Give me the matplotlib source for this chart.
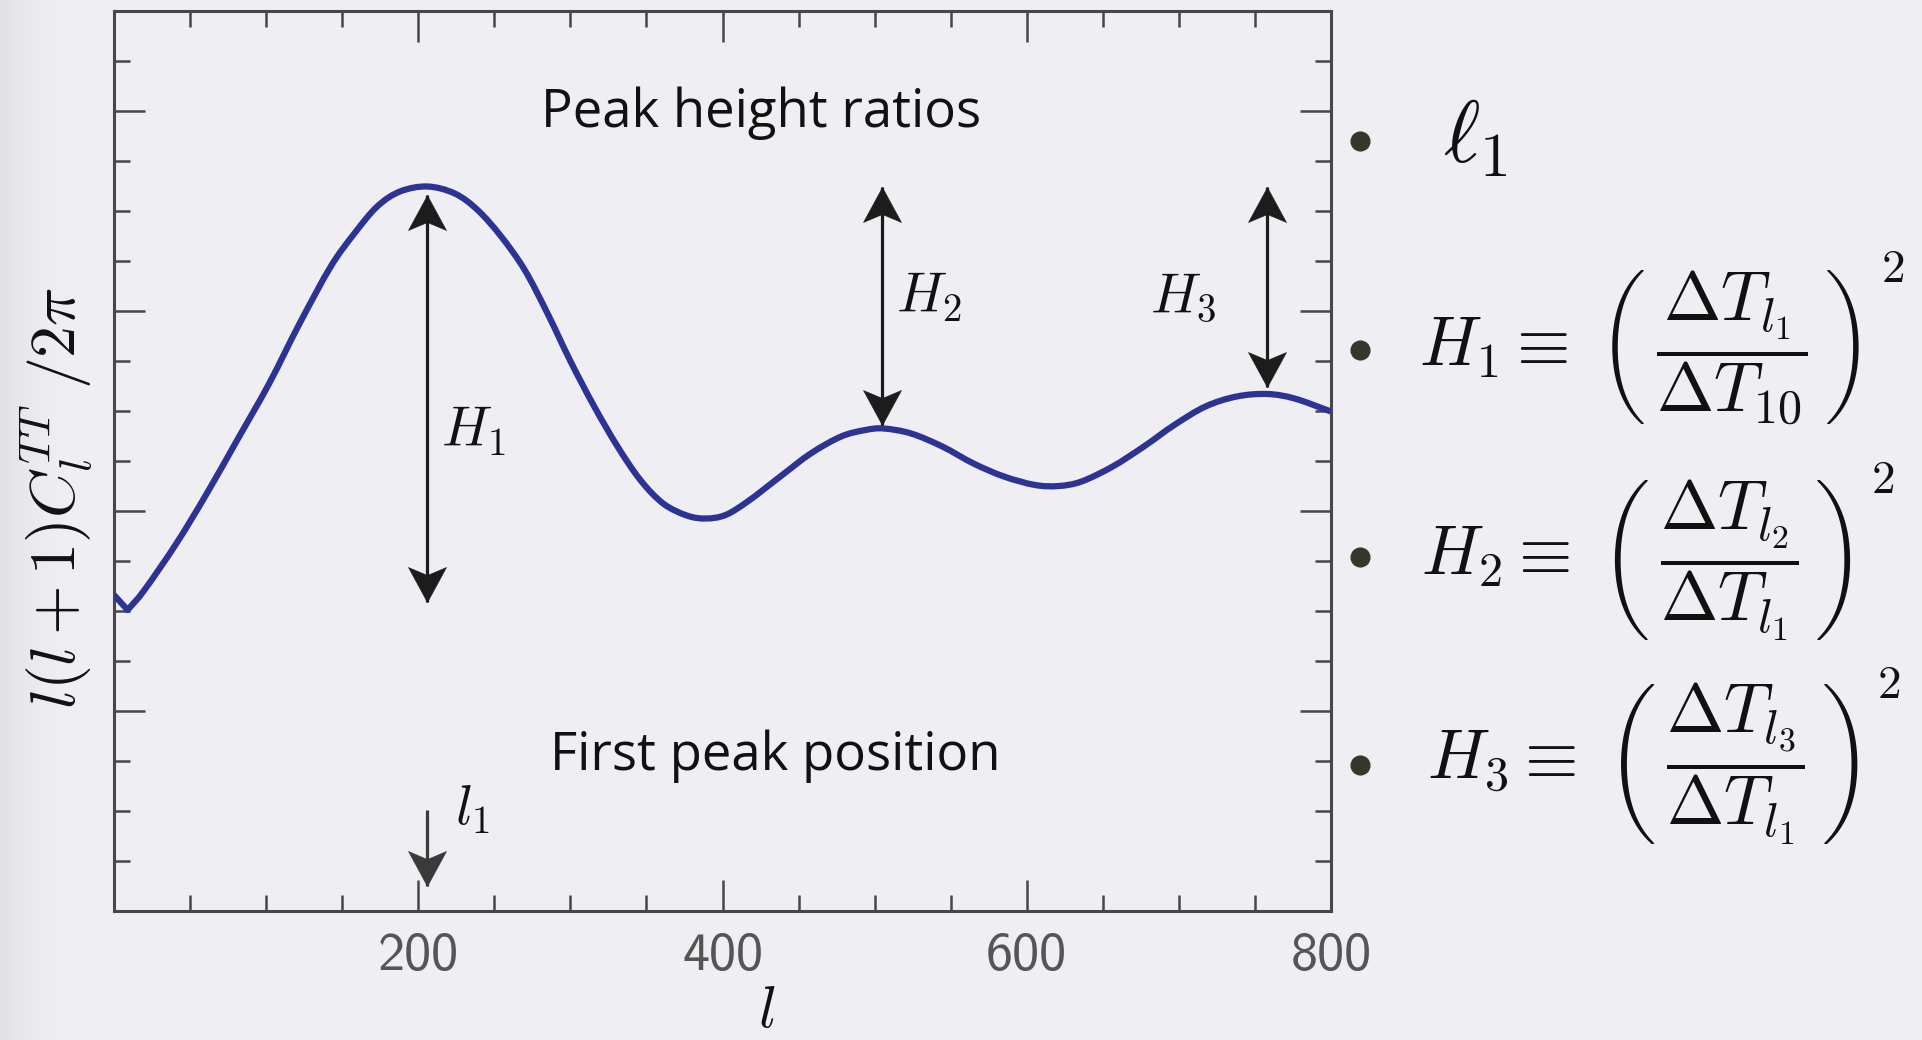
import os
import numpy as np
import matplotlib
matplotlib.use("Agg")
import matplotlib.pyplot as plt
from matplotlib.path import Path
from matplotlib.patches import PathPatch
from matplotlib.lines import Line2D
from matplotlib.font_manager import FontProperties
from matplotlib.ticker import MultipleLocator, FixedLocator

plt.rcParams['mathtext.fontset'] = 'cm'

# Schematic CMB temperature power spectrum, l(l+1)C_l/2pi in arbitrary units
ell = [0, 9, 20, 41, 61, 81, 102, 122, 142.5, 158, 173, 188, 206, 224, 239,
       254.5, 270, 285, 300, 315.5, 331, 346, 361, 376.5, 389, 402, 417, 438,
       458, 478, 494, 506, 524, 544.5, 565, 585, 605.5, 621, 636, 656.5, 677,
       697, 717.5, 738, 758, 776, 800]
power = [6.32, 6.02, 6.42, 7.35, 8.35, 9.42, 10.55, 11.75, 12.89, 13.55,
         14.09, 14.39, 14.49, 14.35, 14.02, 13.49, 12.82, 11.95, 11.00, 10.10,
         9.29, 8.62, 8.15, 7.91, 7.85, 7.92, 8.20, 8.69, 9.15, 9.49, 9.62,
         9.65, 9.55, 9.29, 8.95, 8.69, 8.52, 8.50, 8.59, 8.89, 9.29, 9.72,
         10.09, 10.29, 10.34, 10.25, 9.99]
corner_index = [1]   # the sharp dip at the start of the curve

# Peak-height arrows: multipole, lower tip, upper tip
h_arrow_ell = [206, 505, 758]
h_arrow_low = [6.19, 9.72, 10.49]
h_arrow_high = [14.32, 14.49, 14.49]
h_labels = [r'$H_1$', r'$H_2$', r'$H_3$']
h_label_ell = [215, 514, 681]
h_label_y = [9.28, 11.96, 11.96]

# First-peak position arrow
l1_arrow_ell = 206
l1_arrow_from = 2.02
l1_arrow_to = 0.51

x_ticks = [200, 400, 600, 800]
x_tick_labels = ['200', '400', '600', '800']

W, H = 1922, 1040
BG = '#eeeef3'
CURVE = '#2d3393'
INK = '#1c1c1c'
AXC = '#474747'

sans_cm = FontProperties(
    fname=os.path.join(matplotlib.get_data_path(), 'fonts', 'ttf',
                       'cmss10.ttf'), size=39)

fig = plt.figure(figsize=(W / 100, H / 100), dpi=100, facecolor=BG)

# soft shade along the left edge of the slide
shade_w = 70
grad = (1 - np.arange(shade_w) / shade_w) ** 1.6
shade = np.zeros((H, shade_w, 4))
shade[..., :3] = 0.62
shade[..., 3] = 0.16 * grad[None, :]
fig.figimage(shade, xo=0, yo=0, zorder=0)

ax = fig.add_axes([114 / W, (H - 911) / H, (1331 - 114) / W, (911 - 11) / H])
ax.patch.set_alpha(0)


def smooth_path(x, y, corners=()):
    """Cubic Bezier path through the points (Catmull-Rom tangents)."""
    p = np.column_stack([np.asarray(x, float), np.asarray(y, float)])
    n = len(p)

    def tangent(i, side):
        if i == 0:
            return p[1] - p[0]
        if i == n - 1:
            return p[-1] - p[-2]
        if i in corners:
            return p[i] - p[i - 1] if side == 'in' else p[i + 1] - p[i]
        return (p[i + 1] - p[i - 1]) / 2

    verts, codes = [p[0]], [Path.MOVETO]
    for i in range(n - 1):
        c1 = p[i] + tangent(i, 'out') / 3
        c2 = p[i + 1] - tangent(i + 1, 'in') / 3
        verts += [c1, c2, p[i + 1]]
        codes += [Path.CURVE4] * 3
    return Path(np.array(verts), codes)


ax.add_patch(PathPatch(smooth_path(ell, power, corner_index), fill=False,
                       edgecolor=CURVE, lw=4.5, joinstyle='round',
                       capstyle='butt', zorder=3))


def stealth(pointing):
    v = np.array([[0, 0], [-19, -35], [0, -27], [19, -35], [0, 0]], float)
    if pointing == 'down':
        v[:, 1] *= -1
    return Path(v, [Path.MOVETO, Path.LINETO, Path.LINETO, Path.LINETO,
                    Path.CLOSEPOLY])


HEAD_MS = 2 * 35 * 0.72


def arrow(x, y0, y1, color, up=True, down=True):
    ax.plot([x, x], [y0, y1], color=color, lw=2.3, solid_capstyle='butt',
            zorder=4)
    if up:
        ax.plot([x], [y1], marker=stealth('up'), ms=HEAD_MS, color=color,
                mec=color, mew=0.4, zorder=5)
    if down:
        ax.plot([x], [y0], marker=stealth('down'), ms=HEAD_MS, color=color,
                mec=color, mew=0.4, zorder=5)


for x, lo, hi in zip(h_arrow_ell, h_arrow_low, h_arrow_high):
    arrow(x, lo, hi, INK)
arrow(l1_arrow_ell, l1_arrow_to, l1_arrow_from, '#3b3a3a', up=False)

for txt, x, y in zip(h_labels, h_label_ell, h_label_y):
    ax.text(x, y, txt, fontsize=40, color='#111111', ha='left', va='baseline')
ax.text(224, 1.72, r'$l_1$', fontsize=40, color='#111111', ha='left',
        va='baseline')

ax.text(281, 15.68, 'Peak height ratios', fontsize=38, family='Open Sans',
        color='#111111', ha='left', va='baseline')
ax.text(286.6, 2.82, 'First peak position', fontsize=38, family='Open Sans',
        color='#111111', ha='left', va='baseline')

ax.set_xlim(0, 800)
ax.set_ylim(0, 18)
ax.xaxis.set_major_locator(FixedLocator(x_ticks))
ax.set_xticklabels(x_tick_labels, fontproperties=sans_cm, color='#555555')
ax.xaxis.set_minor_locator(MultipleLocator(50))
ax.yaxis.set_major_locator(MultipleLocator(4))
ax.yaxis.set_minor_locator(MultipleLocator(1))
ax.tick_params(axis='both', which='both', direction='in', top=True,
               right=True, color=AXC, width=1.8, labelleft=False)
ax.tick_params(axis='both', which='major', length=22.3, pad=15)
ax.tick_params(axis='both', which='minor', length=11.5)
for s in ax.spines.values():
    s.set_color(AXC)
    s.set_linewidth(2.2)

# axis titles
fig.text(57 / W, 1 - 498 / H, r'$l(l+1)C_l^{TT}\ /2\pi$', rotation=90,
         fontsize=46, color='#111111', ha='center', va='center')
fig.text(767 / W, 1 - 982 / H, r'$l$', fontsize=42, color='#111111',
         ha='center', va='top')

# bullet list of observables
bullet_y = [141, 350, 557, 765]
for y in bullet_y:
    fig.add_artist(Line2D([1359.5 / W], [1 - y / H], marker='o', ms=13.5,
                          color='#36372c', transform=fig.transFigure))

fig.text(1443 / W, 1 - 162 / H, r'$\ell_1$', fontsize=63, color='#111111',
         ha='left', va='baseline')
eqs = [r'$H_1\equiv\;\left(\,\dfrac{\Delta T_{l_1}}{\Delta T_{10}}\,\right)$',
       r'$H_2\equiv\;\left(\,\dfrac{\Delta T_{l_2}}{\Delta T_{l_1}}\,\right)$',
       r'$H_3\equiv\;\left(\,\dfrac{\Delta T_{l_3}}{\Delta T_{l_1}}\,\right)$']
eq_x = [1419, 1421, 1427]
eq_y = [348, 560, 764]
for s, x, y in zip(eqs, eq_x, eq_y):
    fig.text(x / W, 1 - y / H, s, fontsize=49.5, color='#111111',
             ha='left', va='center')
# squared exponents, set high beside the closing parentheses
sq_x = [1881, 1871, 1877]
sq_y = [282, 493, 698]
for x, y in zip(sq_x, sq_y):
    fig.text(x / W, 1 - y / H, r'$2$', fontsize=34, color='#111111',
             ha='left', va='baseline')

fig.savefig('out.png', dpi=100, facecolor=BG)
